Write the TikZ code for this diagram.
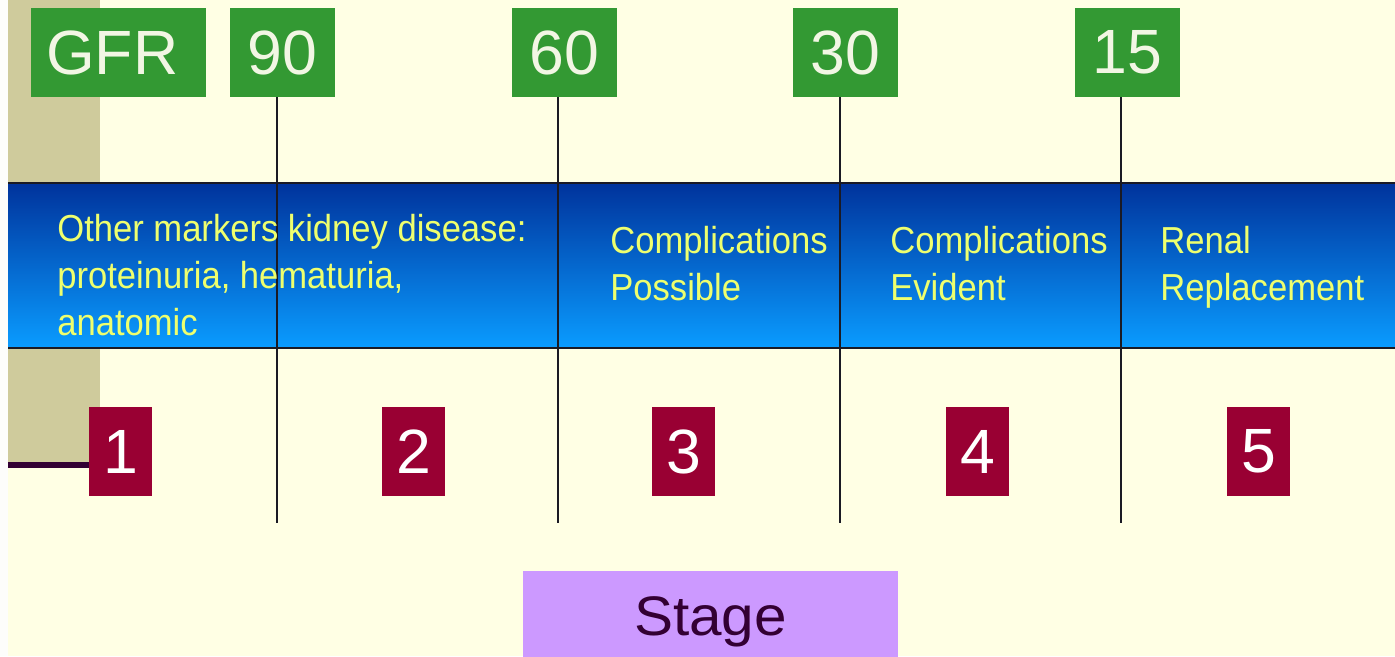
\documentclass[tikz,border=0pt]{standalone}
\usepackage{fontspec}
\setmainfont{Liberation Sans}
\newfontfamily\narrowfont{Liberation Sans}[FakeStretch=0.92]
\newfontfamily\widefont{Liberation Sans}[FakeStretch=1.05]
\definecolor{slidebg}{HTML}{FFFFE4}
\definecolor{sidekhaki}{HTML}{CFCB9C}
\definecolor{gfrgreen}{HTML}{339933}
\definecolor{gfrtext}{HTML}{F2F6E4}
\definecolor{stagered}{HTML}{990033}
\definecolor{bandtop}{HTML}{00339C}
\definecolor{bandbottom}{HTML}{0A9CFF}
\definecolor{bandtext}{HTML}{EEFF6E}
\definecolor{stagelilac}{HTML}{CC99FF}
\definecolor{stageink}{HTML}{330033}
\definecolor{ruleink}{HTML}{1A1A24}

\begin{document}
\begin{tikzpicture}[x=0.02cm, y=-0.02cm,
  gfrbox/.style={fill=gfrgreen, text=gfrtext, inner sep=0pt, minimum width=2.1cm, minimum height=1.78cm, font=\fontsize{35.6}{40}\selectfont},
  stagebox/.style={fill=stagered, text=white, inner sep=0pt, minimum width=1.26cm, minimum height=1.78cm, font=\fontsize{35.6}{40}\selectfont},
  bandlabel/.style={anchor=base west, align=left, inner sep=0pt, text=bandtext, font=\narrowfont\fontsize{21.4}{26.6}\selectfont},
  gfrline/.style={draw=ruleink, line width=1.1pt}]
\useasboundingbox (0,0) rectangle (1395,656);
\fill[slidebg] (0,0) rectangle (1395,656);
\fill[white!96!sidekhaki] (0,0) rectangle (8,656);
\fill[sidekhaki] (8,0) rectangle (100,465);
\shade[top color=bandtop, bottom color=bandbottom] (8,183) rectangle (1395,348);
\draw[ruleink, line width=1pt] (8,183) -- (1395,183) (8,348) -- (1395,348);

\node[gfrbox, minimum width=3.5cm] (gfr) at (118.5,52.5) {GFR\hspace*{7pt}};
\foreach \val/\cx/\lx in {90/282.5/277, 60/564.5/558, 30/845.5/840, 15/1127.5/1121} {
  \node[gfrbox] (g\val) at (\cx,52.5) {\val};
  \coordinate (l\val) at (\lx,523);
  \draw[gfrline] (l\val |- g\val.south) -- (l\val);
}

\node[bandlabel] (markers) at (57,335) {Other markers kidney disease:\\proteinuria, hematuria,\\anatomic};
\node[bandlabel] (possible) at (610,300) {Complications\\Possible};
\node[bandlabel] (evident) at (890,300) {Complications\\Evident};
\node[bandlabel] (renal) at (1160,300) {Renal\\Replacement};

\foreach \n/\cx in {1/120.5, 2/413.5, 3/683.5, 4/977.5, 5/1258.5}
  \node[stagebox] (s\n) at (\cx,451.5) {\n};
\coordinate (stub) at (8,465);
\draw[stageink, line width=3.4pt] (stub) -- (stub -| s1.west);

\node[fill=stagelilac, text=stageink, inner sep=0pt, minimum width=7.5cm, minimum height=2cm, anchor=north, font=\widefont\fontsize{31.7}{36}\selectfont] (stage) at (710.5,571) {Stage};
\end{tikzpicture}
\end{document}
